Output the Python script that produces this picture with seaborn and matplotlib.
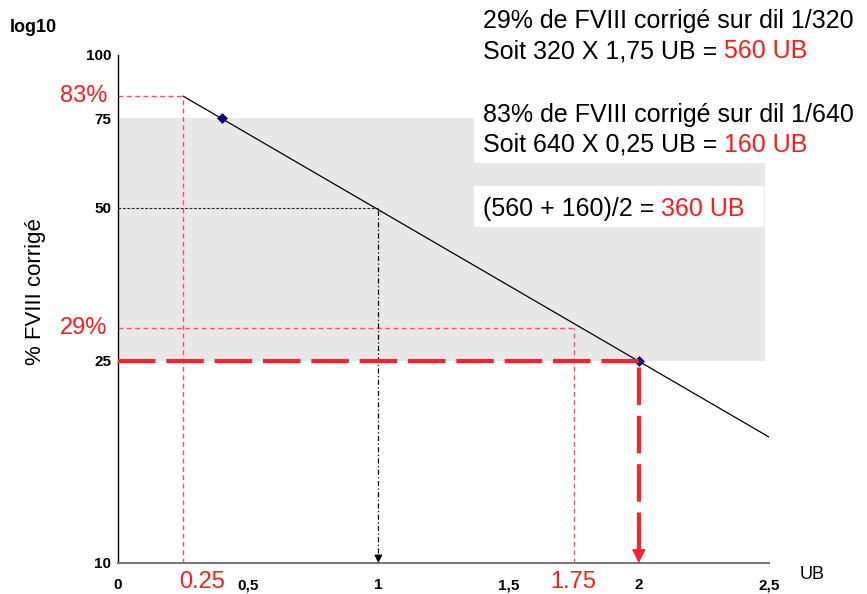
import matplotlib
matplotlib.use("Agg")
import matplotlib.pyplot as plt
from matplotlib.patches import Rectangle
from matplotlib.ticker import FixedLocator, FixedFormatter, NullLocator
import pandas as pd
import seaborn as sns

# Calibration line: % FVIII corrigé (log10) against dilution units (UB)
line_ub = [0.25, 2.5]
line_pct = [83, 17.7]

# Plotted measurement points
point_ub = [0.4, 2.0]
point_pct = [75, 25]

# Reading guides
high_ub, high_pct = 0.25, 83
low_ub, low_pct = 1.75, 29
ref_ub, ref_pct = 1.0, 50
target_ub, target_pct = 2.0, 25

# Shaded validity band
band_pct = [25, 75]
band_ub = [0, 2.485]

x_ticks = [0, 0.5, 1, 1.5, 2, 2.5]
x_labels = ["0", "0,5", "1", "1,5", "2", "2,5"]
y_ticks = [10, 25, 50, 75, 100]
y_labels = ["10", "25", "50", "75", "100"]

W, H = 867, 594
RED_TXT = "#ff1a1a"
RED_THIN = "#ff4f5f"
RED_THICK = "#ff1f30"

sns.set_theme(style="white")
plt.rcParams["font.family"] = ["Liberation Sans", "DejaVu Sans"]
plt.rcParams["text.color"] = "black"
plt.rcParams["xtick.color"] = "black"
plt.rcParams["ytick.color"] = "black"
plt.rcParams["axes.labelcolor"] = "black"

fig = plt.figure(figsize=(W / 100, H / 100), dpi=100)
ax = fig.add_axes([118 / W, 1 - 563 / H, (769 - 118) / W, (563 - 55) / H])

ax.set_yscale("log")
ax.set_xlim(0, 2.5)
ax.set_ylim(10, 100)

# grey band between 25 % and 75 %
ax.add_patch(Rectangle((band_ub[0], band_pct[0]), band_ub[1] - band_ub[0],
                       band_pct[1] - band_pct[0], facecolor="#e8e8e8",
                       edgecolor="none", zorder=0.2))


def fig_rect(x0, y0, x1, y1):
    ax.add_patch(Rectangle((x0 / W, 1 - y1 / H), (x1 - x0) / W, (y1 - y0) / H,
                           transform=fig.transFigure, facecolor="white",
                           edgecolor="none", clip_on=False, zorder=0.5))


# white backing behind the text blocks
fig_rect(474, 90, 867, 163)
fig_rect(474, 186, 764, 227)

# calibration line and points
df_line = pd.DataFrame({"ub": line_ub, "pct": line_pct})
sns.lineplot(data=df_line, x="ub", y="pct", ax=ax, color="black",
             linewidth=0.9, zorder=3)
df_pts = pd.DataFrame({"ub": point_ub, "pct": point_pct})
sns.scatterplot(data=df_pts, x="ub", y="pct", ax=ax, marker="D", s=26,
                color="#000080", edgecolor="#000080", zorder=4)

thin = dict(color=RED_THIN, linewidth=1.0, linestyle=(0, (3.5, 2.5)), zorder=2)
ax.plot([0, high_ub], [high_pct, high_pct], **thin)
ax.plot([high_ub, high_ub], [10, high_pct], **thin)
ax.plot([0, low_ub], [low_pct, low_pct], **thin)
ax.plot([low_ub, low_ub], [10, low_pct], **thin)

# 50 % reference read-off
ax.plot([0, ref_ub], [ref_pct, ref_pct], color="#222222", linewidth=0.8,
        linestyle=(0, (2.5, 1.5)), zorder=2)
ax.plot([ref_ub, ref_ub], [10.45, ref_pct], color="black", linewidth=0.9,
        linestyle=(0, (4, 2, 1, 2)), zorder=2)
ax.annotate("", xy=(ref_ub, 10), xytext=(ref_ub, 10.35),
            arrowprops=dict(arrowstyle="-|>", color="black", lw=0.8,
                            mutation_scale=12, shrinkA=0, shrinkB=0), zorder=5)

# 25 % target read-off
thick = dict(color=RED_THICK, linewidth=3.0, linestyle=(0, (9, 2.6)),
             solid_capstyle="butt", dash_capstyle="butt", zorder=4)
ax.plot([0, target_ub], [target_pct, target_pct], **thick)
ax.plot([target_ub, target_ub], [10.6, target_pct], **thick)
ax.annotate("", xy=(target_ub, 10), xytext=(target_ub, 10.6),
            arrowprops=dict(arrowstyle="-|>", color=RED_THICK, lw=1,
                            mutation_scale=21, shrinkA=0, shrinkB=0), zorder=5)

# axes styling
for side in ("top", "right"):
    ax.spines[side].set_visible(False)
ax.spines["left"].set_color("black")
ax.spines["left"].set_linewidth(1.0)
ax.spines["bottom"].set_color("#7a7a7a")
ax.spines["bottom"].set_linewidth(1.5)
ax.yaxis.set_major_locator(FixedLocator(y_ticks))
ax.yaxis.set_major_formatter(FixedFormatter(y_labels))
ax.yaxis.set_minor_locator(NullLocator())
ax.xaxis.set_major_locator(FixedLocator(x_ticks))
ax.xaxis.set_major_formatter(FixedFormatter(x_labels))
ax.tick_params(axis="both", which="major", direction="out", length=3,
               width=1, color="black", labelcolor="black", labelsize=11)
ax.tick_params(axis="x", pad=8)
ax.tick_params(axis="y", pad=2)
for lab in ax.get_xticklabels() + ax.get_yticklabels():
    lab.set_fontweight("bold")
ax.set_xlabel("")
ax.set_ylabel("")


def ftext(x, y, s, **kw):
    kw.setdefault("color", "black")
    return ax.text(x / W, 1 - y / H, s, transform=fig.transFigure,
                   clip_on=False, **kw)


ftext(10, 32, "log10", fontsize=13, fontweight="bold", va="baseline")
ftext(800, 579, "UB", fontsize=13, va="baseline")
ftext(36, 292, "% FVIII corrigé", fontsize=16, rotation=90,
      ha="center", va="center")

# red value labels
ax.text(-0.017, high_pct, "83%", transform=ax.get_yaxis_transform(),
        fontsize=17, color=RED_TXT, ha="right", va="center")
ax.text(-0.017, low_pct, "29%", transform=ax.get_yaxis_transform(),
        fontsize=17, color=RED_TXT, ha="right", va="center")
ax.text(0.323, -0.037, "0.25", transform=ax.get_xaxis_transform(),
        fontsize=17, color=RED_TXT, ha="center", va="center")
ax.text(low_ub, -0.037, "1.75", transform=ax.get_xaxis_transform(),
        fontsize=17, color=RED_TXT, ha="center", va="center")


def two_tone(x, y, black, red):
    t = ftext(x, y, black, fontsize=18, va="baseline", zorder=6)
    ax.annotate(red, xy=(1, 0), xycoords=t, xytext=(5, 0),
                textcoords="offset points", fontsize=18, color=RED_TXT,
                ha="left", va="bottom", annotation_clip=False, zorder=6)


ftext(483, 28, "29% de FVIII corrigé sur dil 1/320", fontsize=18, va="baseline")
two_tone(483, 58, "Soit 320 X 1,75 UB =", "560 UB")
ftext(483, 122, "83% de FVIII corrigé sur dil 1/640", fontsize=18, va="baseline")
two_tone(483, 152, "Soit 640 X 0,25 UB =", "160 UB")
two_tone(483, 216, "(560 + 160)/2 =", "360 UB")

fig.savefig("out.png", dpi=100)
